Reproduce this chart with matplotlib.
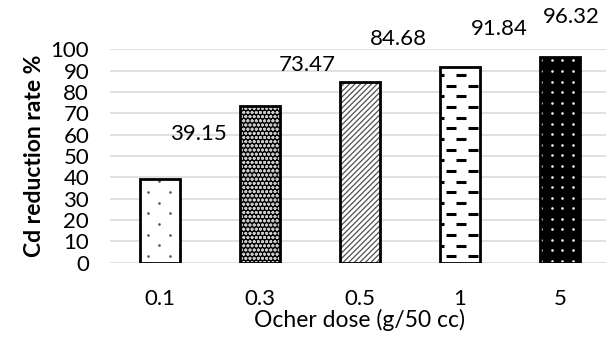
import matplotlib
matplotlib.use('Agg')
import matplotlib.pyplot as plt
import numpy as np

doses = ['0.1', '0.3', '0.5', '1', '5']
reduction = [39.15, 73.47, 84.68, 91.84, 96.32]
# value labels sit up and to the right of the bars, as in the source
label_x = [0.38, 1.47, 2.38, 3.39, 4.11]
label_y = [60.3, 92.7, 104.9, 109.6, 115.4]

plt.rcParams['font.family'] = ['Lato', 'DejaVu Sans']

fig = plt.figure(figsize=(6.06, 3.45), dpi=100)
ax = fig.add_axes([0.1815, 0.2386, 0.825, 0.618])
x = np.arange(len(doses))
w = 0.4

bars = []
fills = ['white', 'black', 'white', 'white', 'black']
hatch_cols = ['white', '#c8c8c8', '#505050', 'white', 'white']
hatches = [None, 'oooo', '//////', None, None]
plt.rcParams['hatch.linewidth'] = 0.9
for i in range(len(doses)):
    b = ax.bar(x[i], reduction[i], w, color=fills[i], edgecolor=hatch_cols[i],
               hatch=hatches[i], linewidth=0, zorder=2)[0]
    bars.append(b)
    ax.bar(x[i], reduction[i], w, fill=False, edgecolor='black', linewidth=2, zorder=4)


def pattern(i, rows, marker, size, color, lw):
    # rows: list of (y, [x offsets]) inside bar i, clipped to the bar
    for yy, offs in rows:
        if yy > reduction[i]:
            continue
        sc = ax.scatter([x[i] + o for o in offs], [yy] * len(offs), marker=marker,
                        s=size, color=color, linewidths=lw, zorder=3)
        sc.set_clip_path(bars[i])


# bar 0.1: sparse grey dots
rows0 = [(y0, [-0.12, 0.10]) if k % 2 == 0 else (y0, [-0.01])
         for k, y0 in enumerate(np.arange(3.2, 45, 5))]
pattern(0, rows0, 'o', 3.5, '#505050', 0)

# bar 1: dashes
rows3 = [(y0, [-0.09, 0.13]) if k % 2 == 0 else (y0, [-0.21, 0.01])
         for k, y0 in enumerate(np.arange(3, 95, 5))]
pattern(3, rows3, '_', 50, 'black', 2.2)

# bar 5: white dots on black
rows4 = [(y0, [-0.185, -0.08, 0.025, 0.135]) for y0 in np.arange(0.8, 97, 4.95)]
pattern(4, rows4, 'o', 3.5, 'white', 0)

for i, v in enumerate(reduction):
    ax.text(label_x[i], label_y[i], f'{v:.2f}', ha='center', va='center',
            fontsize=16, clip_on=False)

ax.set_xlim(-0.5, 4.5)
ax.set_ylim(0, 100)
ax.set_yticks(np.arange(0, 101, 10))
ax.set_xticks(x)
ax.set_xticklabels(doses)
ax.yaxis.grid(True, color='#d9d9d9', linewidth=1.1, zorder=0)
ax.set_axisbelow(True)
for s in ax.spines.values():
    s.set_visible(False)
ax.tick_params(length=0, labelsize=16)
ax.tick_params(axis='x', pad=19)
ax.tick_params(axis='y', pad=15)
ax.set_ylabel('Cd reduction rate %', fontsize=16.5, fontweight='bold', labelpad=4)
ax.set_xlabel('Ocher dose (g/50 cc)', fontsize=16.5, labelpad=0)

fig.savefig('out.png', dpi=100)
